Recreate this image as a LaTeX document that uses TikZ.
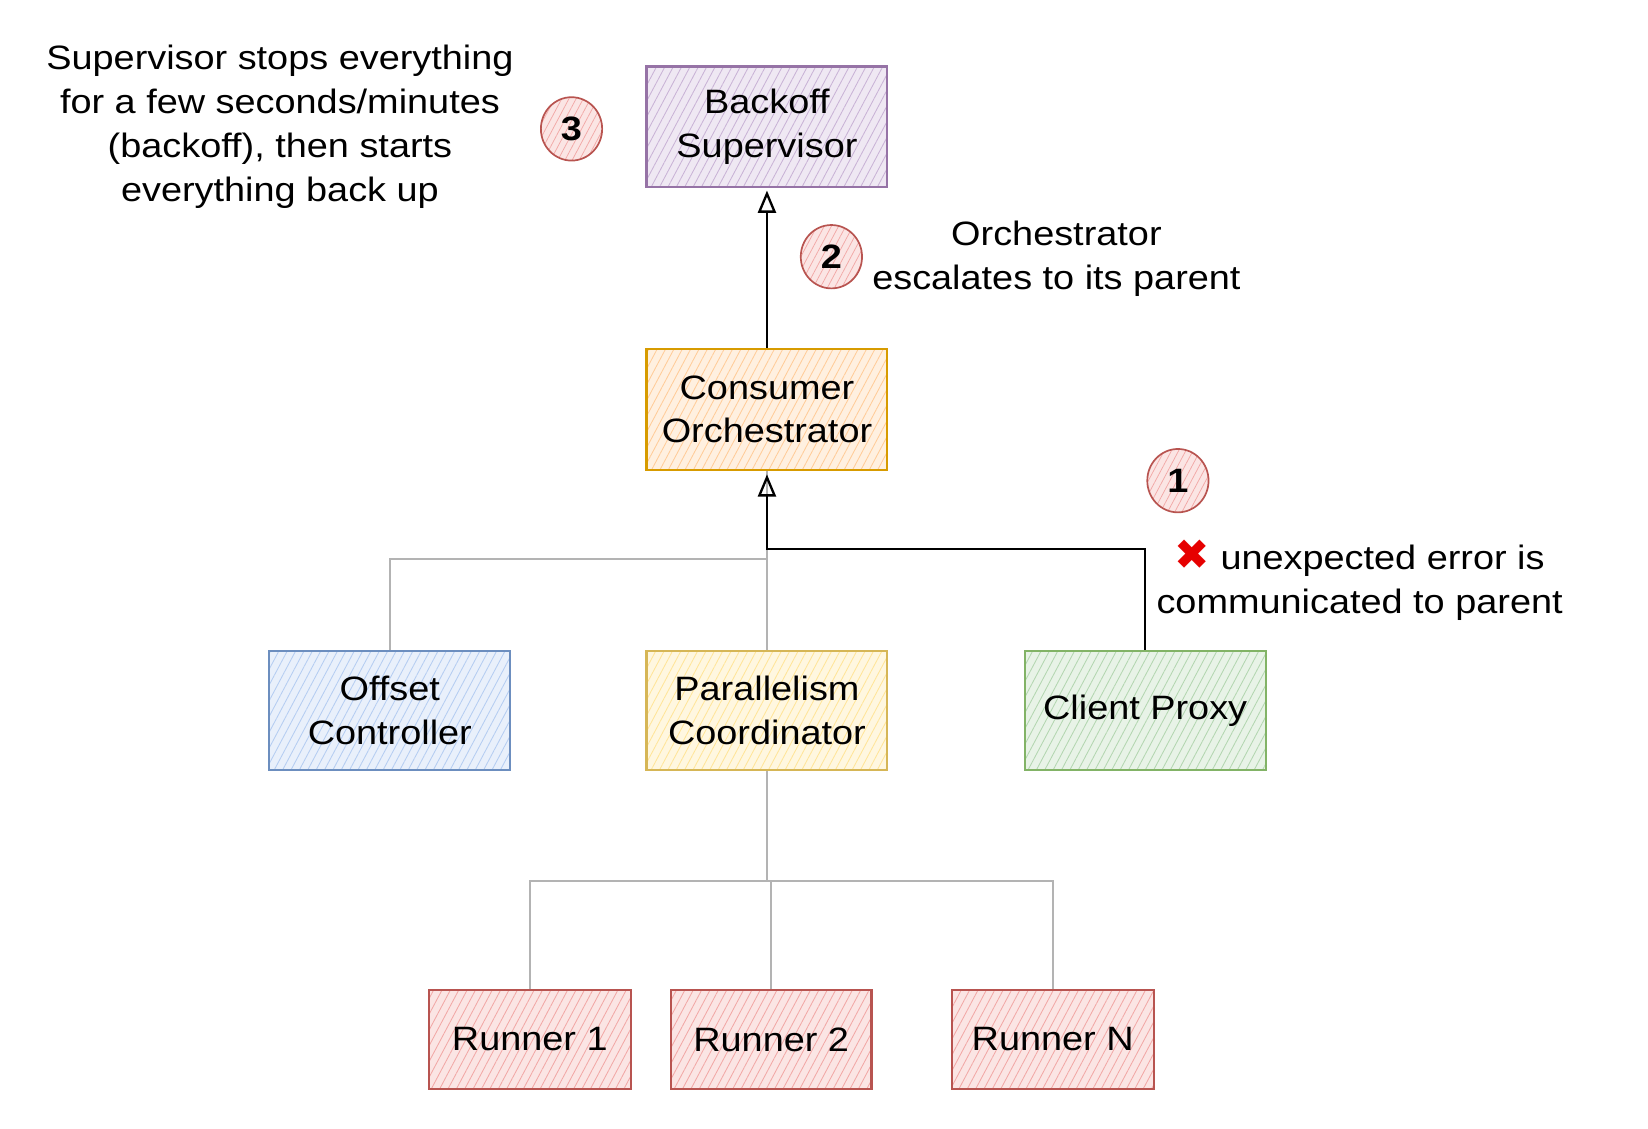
\documentclass[tikz,border=0pt]{standalone}
\usepackage{fontspec}
\setmainfont{Liberation Sans}[FakeStretch=1.12]
\newfontfamily\symfont{DejaVu Sans}
\usetikzlibrary{patterns.meta,arrows.meta,shapes.geometric}
\definecolor{purS}{HTML}{9673A6}\definecolor{purF}{HTML}{C9B3D6}
\definecolor{orS}{HTML}{D79B00}\definecolor{orF}{HTML}{FFCC99}
\definecolor{bluS}{HTML}{6C8EBF}\definecolor{bluF}{HTML}{B5CDF2}
\definecolor{yelS}{HTML}{D6B656}\definecolor{yelF}{HTML}{FFE599}
\definecolor{grnS}{HTML}{82B366}\definecolor{grnF}{HTML}{B3D6B0}
\definecolor{redS}{HTML}{B85450}\definecolor{redF}{HTML}{F2A8A6}
\definecolor{lineG}{HTML}{B3B3B3}
\definecolor{xred}{HTML}{E60000}
\tikzset{
  sbox/.style 2 args={draw=#1, line width=2pt, preaction={fill=#2!30},
    pattern={Lines[angle=62,distance=7pt,line width=0.8pt]}, pattern color=#2,
    inner sep=0pt, align=center, font=\fontsize{32}{41.5}\selectfont},
  circ/.style={ellipse, draw=redS, line width=1.6pt, preaction={fill=redF!30},
    pattern={Lines[angle=62,distance=6pt,line width=0.7pt]}, pattern color=redF,
    inner sep=0pt, minimum width=58pt, minimum height=60pt,
    font=\fontsize{32}{38}\selectfont\bfseries},
  note/.style={align=center, inner sep=0pt, font=\fontsize{32}{41.5}\selectfont},
  gline/.style={draw=lineG, line width=1.6pt},
  bline/.style={draw=black, line width=1.6pt},
  tipopen/.style={-{Triangle[open,length=21pt,width=17pt,line width=2.2pt]}}
}
\begin{document}
\begin{tikzpicture}[x=1pt,y=1pt]
\useasboundingbox (3,0) rectangle (1563,-1068);
% boxes
\node[sbox={purS}{purF}, minimum width=228pt, minimum height=114pt] (back) at (729,-120) {Backoff\\Supervisor};
\node[sbox={orS}{orF}, minimum width=228pt, minimum height=115pt] (cons) at (729,-387.5) {Consumer\\Orchestrator};
\node[sbox={bluS}{bluF}, minimum width=228pt, minimum height=113pt] (off) at (372,-672.5) {Offset\\Controller};
\node[sbox={yelS}{yelF}, minimum width=228pt, minimum height=113pt] (par) at (729,-672.5) {Parallelism\\Coordinator};
\node[sbox={grnS}{grnF}, minimum width=228pt, minimum height=113pt] (client) at (1087,-672.5) {Client Proxy};
\node[sbox={redS}{redF}, minimum width=191pt, minimum height=94pt] (r1) at (504.5,-984) {Runner 1};
\node[sbox={redS}{redF}, minimum width=190pt, minimum height=94pt] (r2) at (733,-984) {Runner 2};
\node[sbox={redS}{redF}, minimum width=191pt, minimum height=94pt] (rn) at (999.5,-984) {Runner N};
% connectors
\draw[gline] (off.north) -- ++(0,86) -| (cons.south);
\draw[gline] (par.north) -- (cons.south);
\draw[bline, tipopen] (client.north) -- ++(0,95) -| ([yshift=-3pt]cons.south);
\draw[bline, tipopen] (cons.north) -- ([yshift=-3pt]back.south);
\draw[gline] (par.south) -- ++(0,-104) coordinate (bus);
\draw[gline] (bus) -| (r1.north);
\draw[gline] (bus) -| (r2.north);
\draw[gline] (bus) -| (rn.north);
% annotations
\node[note] (n3) at (268,-120) {Supervisor stops everything\\for a few seconds/minutes\\(backoff), then starts\\everything back up};
\node[circ] (c3) at (544,-122) {3};
\node[circ] (c2) at (790,-243) {2};
\node[note] (n2) at (1003,-245) {Orchestrator\\escalates to its parent};
\node[circ] (c1) at (1118,-455) {1};
\node[note] (n1) at (1290,-549) {{\symfont\color{xred}\fontsize{40}{40}\selectfont ✖} unexpected error is\\communicated to parent};
\end{tikzpicture}
\end{document}
